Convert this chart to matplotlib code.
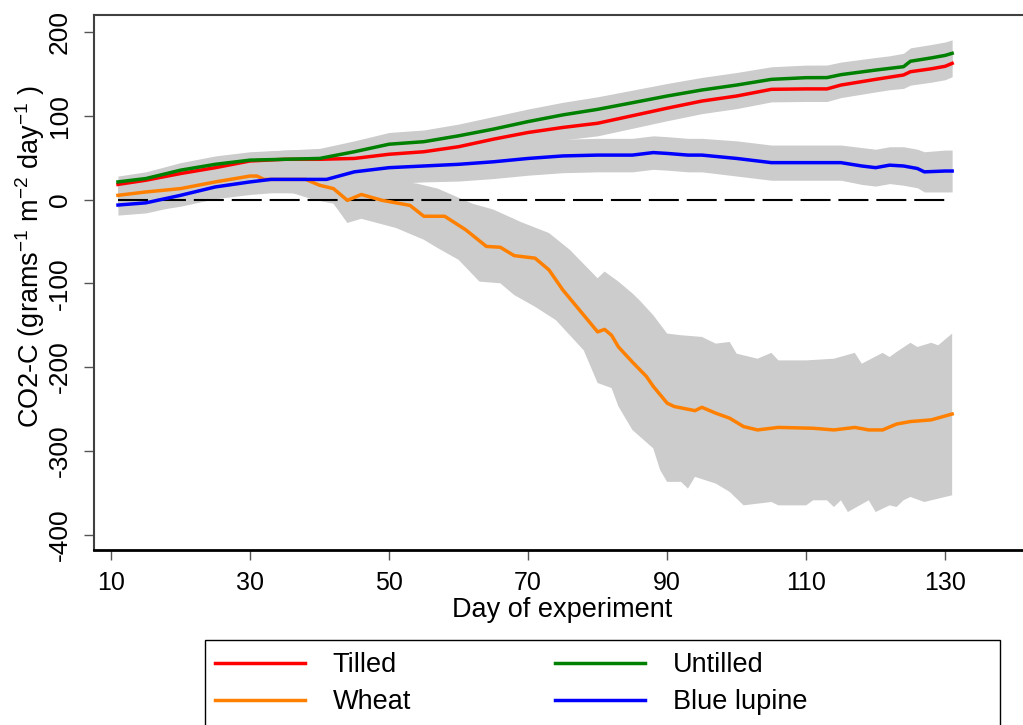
import numpy as np
import matplotlib
matplotlib.use('Agg')
import matplotlib.pyplot as plt
from matplotlib.patches import Rectangle

# --- data ---
# Tilled / Untilled share one day grid
tu_days = [11, 15, 20, 25, 30, 35, 40, 45, 50, 55, 60, 65, 70, 75, 80, 85, 90, 95, 100,
           105, 110, 113, 115, 120, 122, 124, 125, 128, 130, 131]
tilled = [18, 23, 31, 38, 46, 48, 48, 49, 54, 57, 63, 72, 80, 86, 91, 100, 109, 117.5, 123.5,
          131.5, 132, 132, 136.6, 143.4, 146, 148.6, 152.5, 156, 159, 162.5]
tilled_se = [7, 8, 9, 10, 10, 11, 12, 13, 14, 14, 14, 15, 15, 15, 15, 15, 15, 15, 15,
             15, 15, 15, 15, 15, 15, 16, 16, 16, 16, 16]
untilled = [21, 25, 35, 42, 47, 48, 49, 57, 66, 69, 76, 84, 93, 101, 107.6, 115.5, 123.5, 130.7, 136.6,
            143.4, 145.4, 145.5, 149, 154.5, 156.5, 158.5, 165, 169, 172, 174.5]
untilled_se = [7, 8, 9, 10, 10, 11, 12, 13, 14, 14, 14, 15, 15, 15, 15, 15, 15, 15, 15,
               15, 15, 15, 15, 15, 15, 16, 16, 16, 16, 16]

lupine_days = [11, 15, 18, 20, 25, 30, 33, 35, 41, 45, 50, 55, 60, 65, 70, 75, 80, 85, 88, 90,
               93, 95, 100, 105, 110, 115, 118, 120, 122, 124, 126, 127, 130, 131]
lupine = [-6.6, -4, 1.4, 5, 15, 21, 24, 24, 24, 33, 38, 40, 42, 45, 49, 52, 53, 53, 56, 55,
          53, 53, 49, 44, 44, 44, 40, 38, 41, 40, 37, 33, 34, 34]
lupine_se = [12, 12, 12, 13, 14, 15, 16, 16, 17, 18, 19, 19, 20, 20, 20, 20, 20, 20, 20, 20,
             20, 20, 21, 21, 21, 21, 22, 22, 22, 23, 23, 24, 25, 25]

wheat_days = [11, 15, 20, 25, 30, 31, 32, 38, 40, 42, 44, 46, 49, 53, 55, 58, 61, 64, 66, 68,
              71, 73, 75, 77, 80, 81, 82, 83, 85, 87, 88, 90, 91, 94, 95, 97, 99, 101, 103, 106,
              111, 114, 117, 119, 121, 123, 125, 128, 131]
wheat = [5, 9, 13, 21, 28, 28, 24, 24, 17, 13, -1, 6, -1, -7, -20, -20, -36, -56, -57, -67,
         -70, -84, -108, -128, -158, -155, -162, -176, -194, -211, -223, -243, -247, -252, -248, -255, -261, -271, -275, -272,
         -273, -275, -272, -275, -275, -268, -265, -263, -256]

wheat_hi_days = [11, 20, 30, 35, 40, 45, 50, 54, 57, 62, 65, 69, 73, 76, 80, 81, 83, 85, 86, 88,
                 90, 92, 95, 97, 99, 100, 103, 105, 106, 110, 114, 117, 118, 121, 122, 123, 125, 126, 128, 129, 131]
wheat_hi = [18, 26, 40, 42, 34, 26, 23, 19, 13, -5, -12, -27, -40, -60, -94, -86, -98, -112, -120, -138,
            -160, -162, -164, -172, -170, -184, -190, -183, -192, -192, -190, -183, -196, -183, -188, -182, -171, -176, -171, -174, -160]
wheat_lo_days = [11, 20, 30, 36, 39, 42, 44, 46, 51, 55, 57, 60, 63, 66, 68, 71, 74, 78, 80, 82,
                 83, 85, 88, 89, 90, 92, 93, 94, 97, 99, 101, 105, 106, 110, 111, 113, 114, 115, 116, 119,
                 120, 122, 123, 124, 125, 127, 129, 131]
wheat_lo = [-10, -3, 12, 8, 0, -5, -28, -23, -34, -48, -58, -72, -98, -100, -114, -128, -144, -180, -219, -225,
            -247, -275, -297, -323, -337, -337, -345, -331, -339, -349, -365, -361, -365, -365, -359, -359, -367, -359, -373, -359,
            -373, -365, -367, -359, -355, -361, -357, -353]

x_ticks = [10, 30, 50, 70, 90, 110, 130]
y_ticks = [-400, -300, -200, -100, 0, 100, 200]

# --- style ---
plt.rcParams['font.family'] = ['Liberation Sans', 'DejaVu Sans']
plt.rcParams['axes.unicode_minus'] = False
plt.rcParams['mathtext.fontset'] = 'custom'
plt.rcParams['mathtext.rm'] = 'Liberation Sans'
plt.rcParams['mathtext.it'] = 'Liberation Sans:italic'

band = '#CCCCCC'
lw = 2.5

fig = plt.figure(figsize=(10.23, 7.25), dpi=100)
ax = fig.add_axes([94 / 1023, 175 / 725, 936 / 1023, 535 / 725])

# confidence bands
for d, y, se in [(tu_days, tilled, tilled_se), (tu_days, untilled, untilled_se),
                 (lupine_days, lupine, lupine_se)]:
    y = np.array(y)
    se = np.array(se)
    ax.fill_between(d, y - se, y + se, color=band, lw=0, zorder=1)
ax.fill(np.r_[wheat_hi_days, wheat_lo_days[::-1]], np.r_[wheat_hi, wheat_lo[::-1]],
        color=band, lw=0, zorder=1)

ax.hlines(0, wheat_days[0], wheat_days[-1], colors='black', lw=1.5,
          linestyles=(0, (14.4, 3.8)), zorder=2)

l_till, = ax.plot(tu_days, tilled, color='#FF0000', lw=lw, label='Tilled', zorder=3)
l_untill, = ax.plot(tu_days, untilled, color='#008000', lw=lw, label='Untilled', zorder=3)
l_wheat, = ax.plot(wheat_days, wheat, color='#FF8000', lw=lw, label='Wheat', zorder=3)
l_lup, = ax.plot(lupine_days, lupine, color='#0000FF', lw=lw, label='Blue lupine', zorder=3)

ax.set_xlim(7.55, 142.2)
ax.set_ylim(-418.3, 220.2)
ax.set_xticks(x_ticks)
ax.set_yticks(y_ticks)
ax.tick_params(axis='both', direction='out', length=7, width=1, color='#555555')
ax.tick_params(axis='x', labelsize=18, pad=8)
ax.tick_params(axis='y', labelsize=19, pad=9, labelrotation=90)
for lab in ax.get_yticklabels():
    lab.set_va('center')

ax.spines['right'].set_visible(False)
for s in ['left', 'top']:
    ax.spines[s].set_color('#404040')
    ax.spines[s].set_linewidth(1.5)
ax.spines['bottom'].set_color('black')
ax.spines['bottom'].set_linewidth(2)

fig.text(562 / 1023, 1 - 617 / 725, 'Day of experiment', fontsize=19.5,
         ha='center', va='baseline')
fig.text(30 / 1023, 1 - 428 / 725,
         r'CO2-C (grams$^{\mathregular{-1}}$ m$^{\mathregular{-2}}$ day$^{\mathregular{-1}}$ )',
         fontsize=19.5, rotation=90, ha='center', va='bottom')

# legend box below the plot (cut off by the figure edge)
fig.patches.append(Rectangle((205 / 1023, -0.05), 795 / 1023, 0.05 + 85 / 725,
                             transform=fig.transFigure, fill=False, ec='black', lw=1))
fig.legend(handles=[l_till, l_wheat, l_untill, l_lup], ncol=2, frameon=False,
           loc='upper left', bbox_to_anchor=(215 / 1023, 1 - 652 / 725),
           fontsize=19.5, borderpad=0, borderaxespad=0, handlelength=3.32,
           handletextpad=1.03, columnspacing=5.3, labelspacing=0.42)

fig.savefig('out.png', dpi=100)
